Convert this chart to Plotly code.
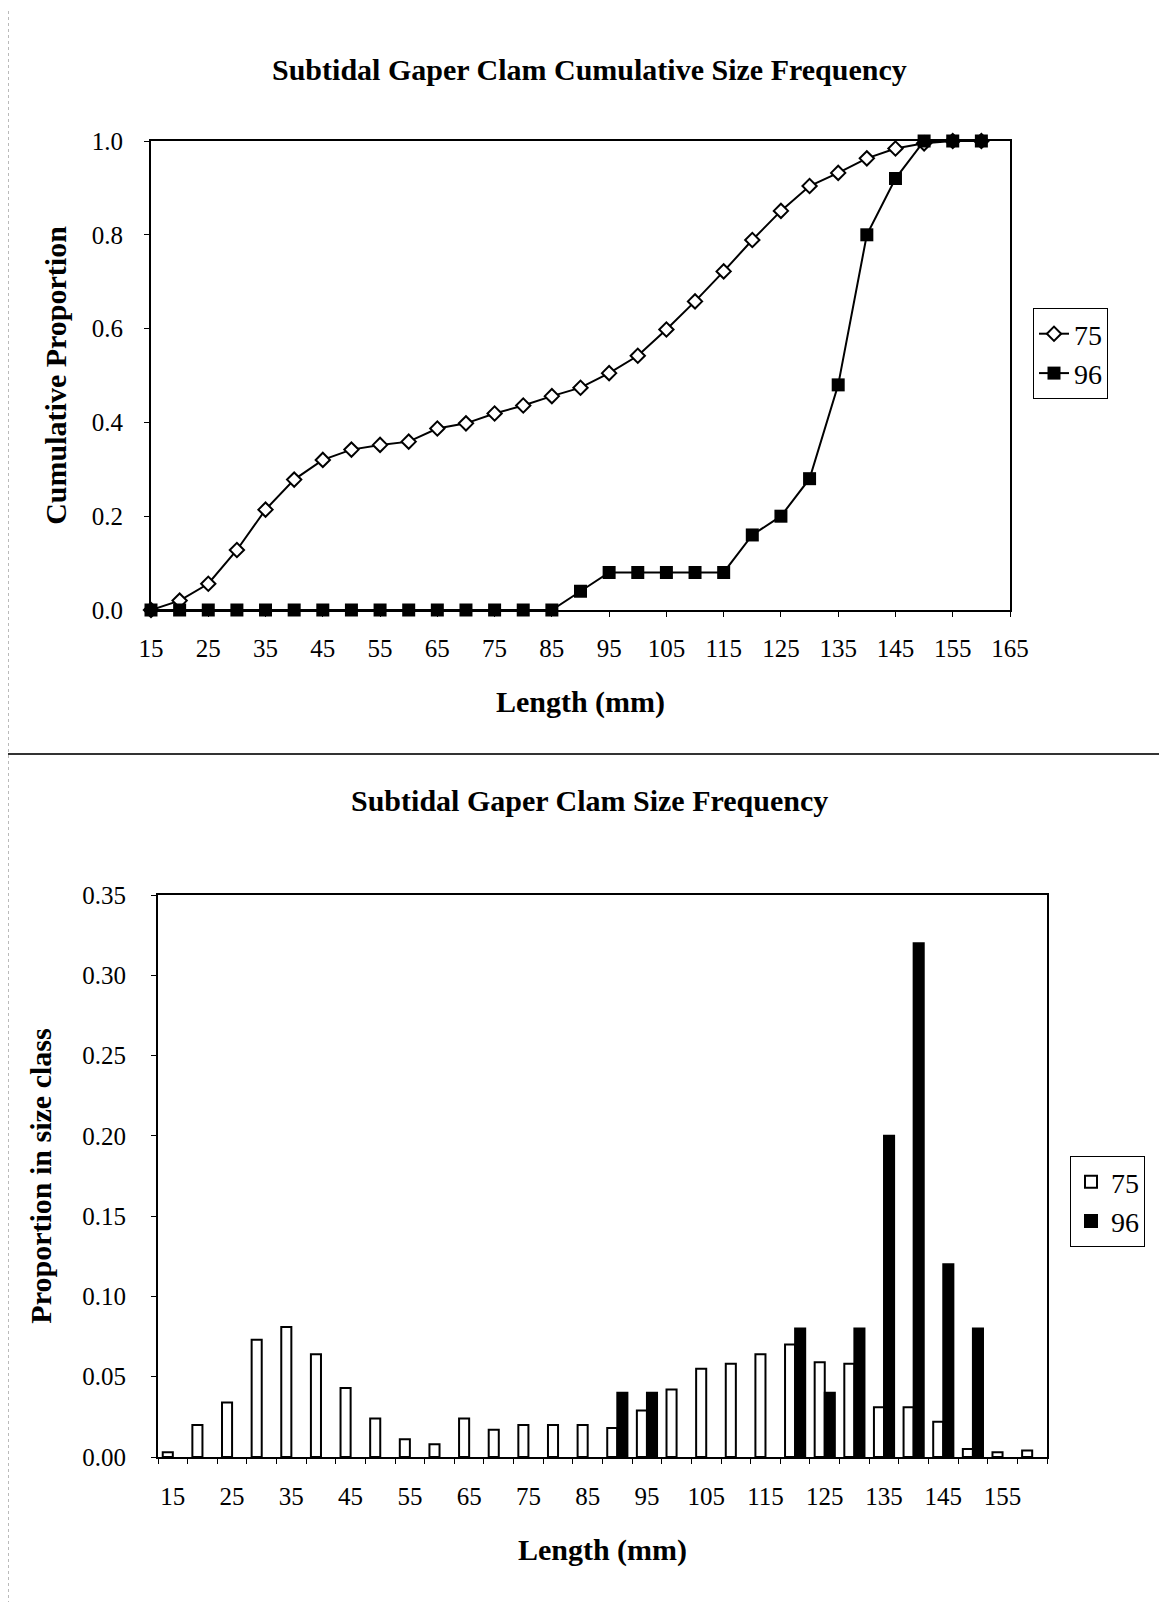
import plotly.graph_objects as go

# size classes (mm)
lengths = [15, 20, 25, 30, 35, 40, 45, 50, 55, 60, 65, 70, 75, 80, 85,
           90, 95, 100, 105, 110, 115, 120, 125, 130, 135, 140, 145, 150, 155, 160]

# cumulative proportions
cum_75 = [0.0, 0.02, 0.056, 0.128, 0.214, 0.278, 0.32, 0.342, 0.352, 0.359, 0.387, 0.398, 0.419, 0.436, 0.456,
          0.474, 0.505, 0.542, 0.598, 0.658, 0.722, 0.789, 0.851, 0.904, 0.932, 0.963, 0.984, 0.995, 1.0, 1.0]
cum_96 = [0.0, 0.0, 0.0, 0.0, 0.0, 0.0, 0.0, 0.0, 0.0, 0.0, 0.0, 0.0, 0.0, 0.0, 0.0,
          0.04, 0.08, 0.08, 0.08, 0.08, 0.08, 0.16, 0.20, 0.28, 0.48, 0.80, 0.92, 1.0, 1.0, 1.0]

# proportion in each size class (None = no bar drawn)
freq_75 = [0.003, 0.020, 0.034, 0.073, 0.081, 0.064, 0.043, 0.024, 0.011, 0.008, 0.024, 0.017, 0.020, 0.020, 0.020,
           0.018, 0.029, 0.042, 0.055, 0.058, 0.064, 0.070, 0.059, 0.058, 0.031, 0.031, 0.022, 0.005, 0.003, 0.004]
freq_96 = [None, None, None, None, None, None, None, None, None, None, None, None, None, None, None,
           0.04, 0.04, None, None, None, None, 0.08, 0.04, 0.08, 0.20, 0.32, 0.12, 0.08, None, None]

W, H = 1167, 1602
OFF = 8  # page body margin
FONT = "Liberation Serif, Times New Roman, serif"

def px_x(a, b):
    return [(a - OFF) / W, (b - OFF) / W]

def px_y(top, bottom):
    return [1 - (bottom - OFF) / H, 1 - (top - OFF) / H]

fig = go.Figure()

# top: cumulative
fig.add_trace(go.Scatter(x=lengths, y=cum_75, name="75", mode="lines+markers",
                         line=dict(color="black", width=2),
                         marker=dict(symbol="diamond", size=11, color="white",
                                     line=dict(color="black", width=2)),
                         cliponaxis=False, xaxis="x", yaxis="y", legend="legend"))
fig.add_trace(go.Scatter(x=lengths, y=cum_96, name="96", mode="lines+markers",
                         line=dict(color="black", width=2),
                         marker=dict(symbol="square", size=13, color="black"),
                         cliponaxis=False, xaxis="x", yaxis="y", legend="legend"))

# bottom: size frequency
fig.add_trace(go.Bar(x=lengths, y=freq_75, name="75", marker=dict(color="white", line=dict(color="black", width=2)),
                     xaxis="x2", yaxis="y2", legend="legend2"))
fig.add_trace(go.Bar(x=lengths, y=freq_96, name="96", marker=dict(color="black", line=dict(color="black", width=2)),
                     xaxis="x2", yaxis="y2", legend="legend2"))

axis_common = dict(showline=True, linecolor="black", linewidth=2, mirror=True, automargin=False,
                   showgrid=False, zeroline=False, ticks="outside", ticklen=5,
                   tickcolor="black", tickfont=dict(family=FONT, size=25, color="black"))
title_font = dict(family=FONT, size=30, color="black")

fig.update_layout(
    width=W, height=H,
    font=dict(family=FONT, color="black"),
    margin=dict(l=0, r=0, t=0, b=0, pad=0, autoexpand=False),
    paper_bgcolor="white", plot_bgcolor="white",
    barmode="group", bargap=0.32, bargroupgap=0,
    xaxis=dict(axis_common, domain=px_x(151, 1010), anchor="y", range=[15, 165],
               tickmode="linear", tick0=15, dtick=10, ticklabelstandoff=10,
               title=dict(text="<b>Length (mm)</b>", font=title_font, standoff=30)),
    yaxis=dict(axis_common, domain=px_y(141, 610), anchor="x", range=[0, 1.0],
               dtick=0.2, tickformat=".1f", ticklabelstandoff=16,
               title=dict(text="<b>Cumulative Proportion</b>", font=title_font, standoff=16)),
    xaxis2=dict(axis_common, domain=px_x(158, 1047), anchor="y2", range=[12.5, 162.5],
                tickmode="array", tickvals=list(range(15, 160, 10)), ticks="", ticklabelstandoff=16,
                minor=dict(ticks="outside", ticklen=5, tickcolor="black", tick0=12.5, dtick=5),
                title=dict(text="<b>Length (mm)</b>", font=title_font, standoff=30)),
    yaxis2=dict(axis_common, domain=px_y(895, 1457), anchor="x2", range=[0, 0.35],
                dtick=0.05, tickformat=".2f", ticklabelstandoff=20,
                title=dict(text="<b>Proportion in size class</b>", font=title_font, standoff=22)),
    legend=dict(x=(1033 - OFF) / W, y=1 - (308 - OFF) / H, xanchor="left", yanchor="top",
                bordercolor="black", borderwidth=1, bgcolor="white", tracegroupgap=0,
                font=dict(family=FONT, size=28, color="black")),
    legend2=dict(x=(1070 - OFF) / W, y=1 - (1156 - OFF) / H, xanchor="left", yanchor="top",
                 bordercolor="black", borderwidth=1, bgcolor="white",
                 font=dict(family=FONT, size=28, color="black")),
    annotations=[
        dict(text="<b>Subtidal Gaper Clam Cumulative Size Frequency</b>", x=(589 - OFF) / W, y=1 - (51 - OFF) / H,
             xref="paper", yref="paper", showarrow=False, font=dict(family=FONT, size=30, color="black")),
        dict(text="<b>Subtidal Gaper Clam Size Frequency</b>", x=(589 - OFF) / W, y=1 - (800 - OFF) / H,
             xref="paper", yref="paper", showarrow=False, font=dict(family=FONT, size=30, color="black")),
    ],
    shapes=[
        dict(type="line", xref="paper", yref="paper", x0=0, x1=1, y0=1 - (754 - OFF) / H, y1=1 - (754 - OFF) / H,
             line=dict(color="#333", width=2)),
        dict(type="line", xref="paper", yref="paper", x0=0, x1=0, y0=0, y1=1,
             line=dict(color="#777", width=1, dash="dot")),
        dict(type="line", xref="paper", yref="paper", x0=(1163 - OFF) / W, x1=(1163 - OFF) / W, y0=0, y1=1,
             line=dict(color="#777", width=1, dash="dot")),
    ],
)

fig.write_html("out.html")
